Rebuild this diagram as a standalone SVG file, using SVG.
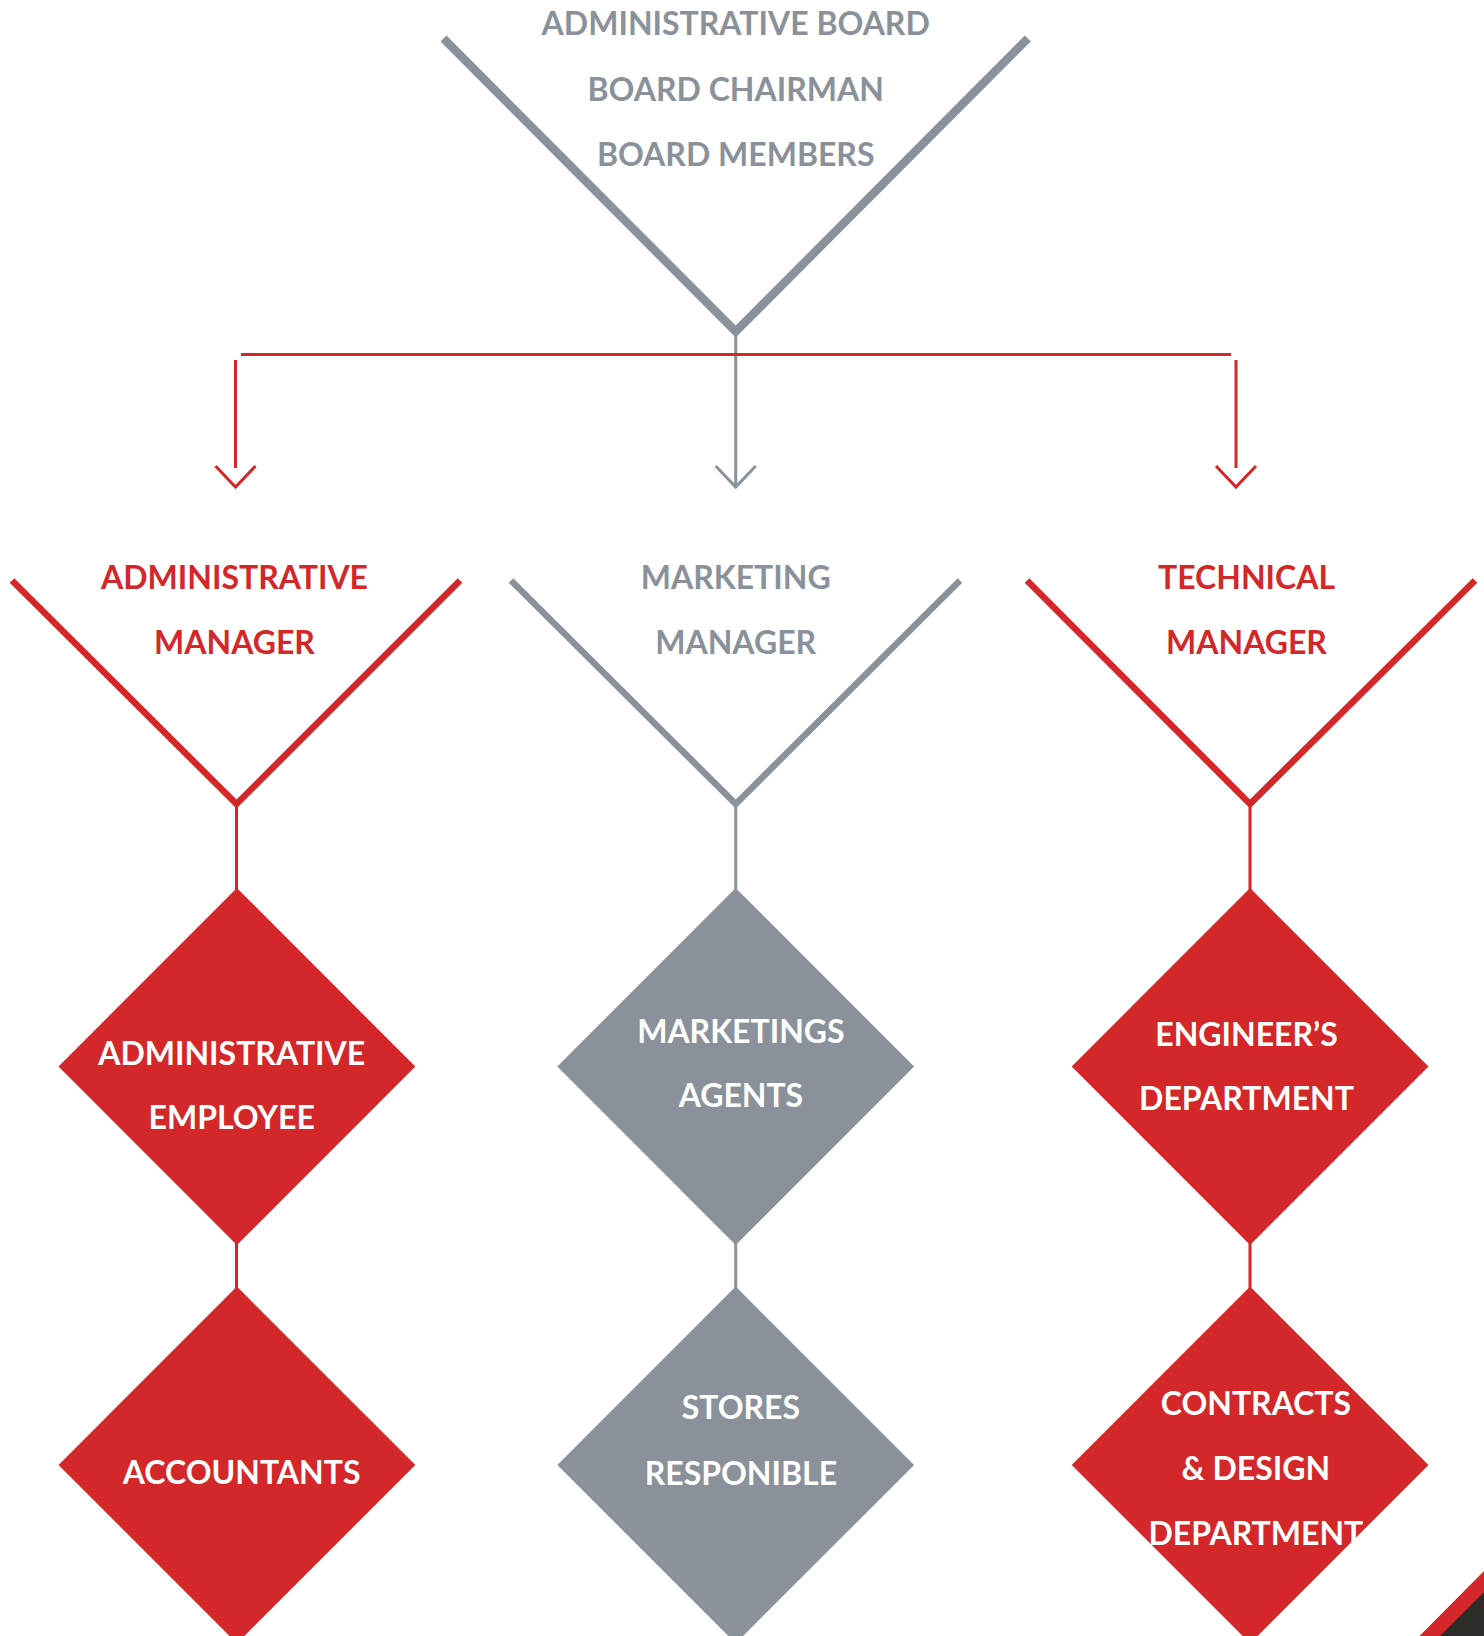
<svg xmlns="http://www.w3.org/2000/svg" width="1484" height="1636" viewBox="0 0 1484 1636">
<style>
text{font-family:Lato,"Noto Sans","Liberation Sans",sans-serif;font-weight:700;font-size:32px;text-anchor:middle}
.g{fill:#8a919b}.r{fill:#d32729}.w{fill:#ffffff}
.vg{fill:none;stroke:#8a919b;stroke-width:8.5}
.vr{fill:none;stroke:#d32729;stroke-width:6.5}
.lg{fill:none;stroke:#8a919b;stroke-width:3}
.lr{fill:none;stroke:#d32729;stroke-width:3}
.dr{fill:#d32729}.dg{fill:#8a919b}
</style>
<rect width="1484" height="1636" fill="#ffffff"/>
<g id="connectors">
<line class="lg" x1="735.7" y1="330" x2="735.7" y2="486"/>
<line class="lr" x1="241" y1="354.5" x2="1231" y2="354.5"/>
<line class="lr" x1="235.5" y1="360" x2="235.5" y2="468"/>
<line class="lr" x1="1236" y1="360" x2="1236" y2="468"/>
<polyline class="lr" points="215.5,466 235.5,487 255.5,466"/>
<polyline class="lg" points="715.7,466 735.7,487 755.7,466"/>
<polyline class="lr" points="1216,466 1236,487 1256,466"/>
<line class="lr" x1="236.5" y1="804" x2="236.5" y2="890"/>
<line class="lg" x1="735.7" y1="804" x2="735.7" y2="890"/>
<line class="lr" x1="1250" y1="804" x2="1250" y2="890"/>
<line class="lr" x1="236.5" y1="1243" x2="236.5" y2="1289"/>
<line class="lg" x1="735.7" y1="1243" x2="735.7" y2="1289"/>
<line class="lr" x1="1250" y1="1243" x2="1250" y2="1289"/>
</g>
<g id="board">
<polyline class="vg" points="443.5,38.5 735.7,331.5 1027.8,38.5"/>
<text class="g" x="735.7" y="34.5">ADMINISTRATIVE BOARD</text>
<text class="g" x="735.7" y="101">BOARD CHAIRMAN</text>
<text class="g" x="735.7" y="166">BOARD MEMBERS</text>
</g>
<g id="admin-manager">
<polyline class="vr" points="12,580.5 236.5,804 460,580.5"/>
<text class="r" x="234.5" y="589">ADMINISTRATIVE</text>
<text class="r" x="234.5" y="654">MANAGER</text>
</g>
<g id="marketing-manager">
<polyline class="vg" style="stroke-width:6.5" points="511,580.5 735.7,804 960,580.5"/>
<text class="g" x="735.7" y="589">MARKETING</text>
<text class="g" x="735.7" y="654">MANAGER</text>
</g>
<g id="technical-manager">
<polyline class="vr" points="1027,580.5 1250,804 1475,580.5"/>
<text class="r" x="1246.5" y="589">TECHNICAL</text>
<text class="r" x="1246.5" y="654">MANAGER</text>
</g>
<g id="admin-employee">
<polygon class="dr" points="236.9,888 415.3,1066.5 236.9,1245 58.5,1066.5"/>
<text class="w" x="231.7" y="1064.5">ADMINISTRATIVE</text>
<text class="w" x="231.7" y="1129">EMPLOYEE</text>
</g>
<g id="accountants">
<polygon class="dr" points="236.9,1286.6 415.3,1465 236.9,1643.4 58.5,1465"/>
<text class="w" x="241.6" y="1484">ACCOUNTANTS</text>
</g>
<g id="marketing-agents">
<polygon class="dg" points="735.7,888 914.1,1066.5 735.7,1245 557.3,1066.5"/>
<text class="w" x="740.9" y="1042.5">MARKETINGS</text>
<text class="w" x="740.9" y="1107">AGENTS</text>
</g>
<g id="stores">
<polygon class="dg" points="735.7,1286.6 914.1,1465 735.7,1643.4 557.3,1465"/>
<text class="w" x="740.9" y="1419">STORES</text>
<text class="w" x="740.9" y="1485">RESPONIBLE</text>
</g>
<g id="engineers">
<polygon class="dr" points="1250.1,888 1428.5,1066.5 1250.1,1245 1071.7,1066.5"/>
<text class="w" x="1246.5" y="1045.5">ENGINEER’S</text>
<text class="w" x="1246.5" y="1110">DEPARTMENT</text>
</g>
<g id="contracts">
<polygon class="dr" points="1250.1,1286.6 1428.5,1465 1250.1,1643.4 1071.7,1465"/>
<text class="w" x="1255.9" y="1415">CONTRACTS</text>
<text class="w" x="1255.9" y="1480">&amp; DESIGN</text>
<text class="w" x="1255.9" y="1544.5">DEPARTMENT</text>
</g>
<g id="corner">
<polygon fill="#d32729" points="1419.5,1636 1484,1571 1484,1636"/>
<polygon fill="#2e2b29" points="1440,1636 1484,1592 1484,1636"/>
</g>
</svg>
